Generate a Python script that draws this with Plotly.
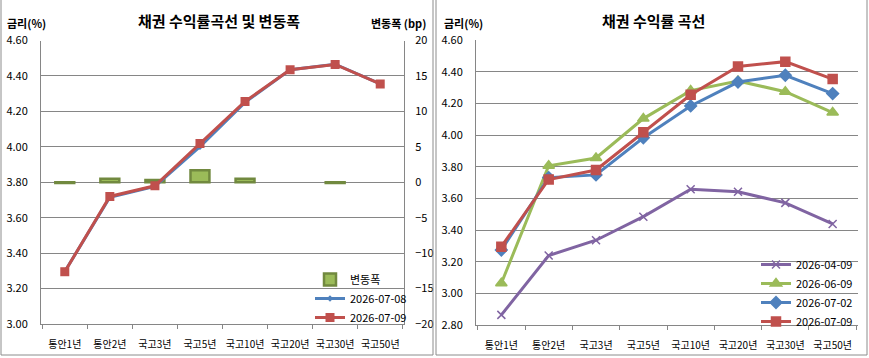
import plotly.graph_objects as go

W, H = 869, 358

categories = ["통안1년", "통안2년", "국고3년", "국고5년", "국고10년", "국고20년", "국고30년", "국고50년"]

# Left chart
change_bp = [-0.1, 0.5, 0.3, 1.7, 0.5, 0, -0.1, 0]
y_0708 = [3.296, 3.715, 3.777, 4.001, 4.251, 4.435, 4.466, 4.355]
y_0709 = [3.295, 3.720, 3.780, 4.018, 4.256, 4.435, 4.465, 4.355]

# Right chart
y_0409 = [2.864, 3.239, 3.336, 3.485, 3.658, 3.643, 3.572, 3.439]
y_0609 = [3.064, 3.807, 3.856, 4.105, 4.282, 4.343, 4.275, 4.143]
y_0702 = [3.274, 3.732, 3.749, 3.984, 4.185, 4.336, 4.379, 4.263]

FONT = "Noto Sans CJK KR"
GRID = "#868686"
PURPLE, GREEN, BLUE, RED = "#8064A2", "#9BBB59", "#4F81BD", "#C0504D"


def px(x):
    return x / W


def py(y):
    return 1 - y / H


fig = go.Figure()

# ---- left chart ----
bar_line_w = [0 if v == 0 else 2.5 for v in change_bp]
fig.add_trace(go.Bar(
    x=categories, y=change_bp, name="변동폭", xaxis="x", yaxis="y",
    marker=dict(color=GREEN, line=dict(color="#71893F", width=bar_line_w)),
    width=0.42, legend="legend",
))
fig.add_trace(go.Scatter(
    x=categories, y=y_0708, name="2026-07-08", xaxis="x", yaxis="y2",
    mode="lines+markers", line=dict(color=BLUE, width=3),
    marker=dict(symbol="diamond", size=5, color=BLUE), legend="legend",
))
fig.add_trace(go.Scatter(
    x=categories, y=y_0709, name="2026-07-09", xaxis="x", yaxis="y2",
    mode="lines+markers", line=dict(color=RED, width=3),
    marker=dict(symbol="square", size=9, color=RED), legend="legend",
))

# ---- right chart ----
for name, vals, col, sym, sz in [
    ("2026-04-09", y_0409, PURPLE, "x-thin", 8),
    ("2026-06-09", y_0609, GREEN, "triangle-up", 10),
    ("2026-07-02", y_0702, BLUE, "diamond", 9),
    ("2026-07-09", y_0709, RED, "square", 9),
]:
    fig.add_trace(go.Scatter(
        x=categories, y=vals, name=name, xaxis="x2", yaxis="y3",
        mode="lines+markers", line=dict(color=col, width=3),
        marker=dict(symbol=sym, size=sz, color=col, line=dict(color=col, width=1.5)),
        legend="legend2",
    ))

tickfont = dict(family=FONT, size=11, color="#000000")
xtickfont = dict(family=FONT, size=10, color="#000000")

xcommon = dict(
    type="category", showline=True, linecolor=GRID, linewidth=1,
    ticks="outside", tickson="boundaries", ticklen=4, tickcolor=GRID,
    tickfont=xtickfont, tickangle=0, ticklabelstandoff=11,
    showgrid=False, fixedrange=True, automargin=False,
)

fig.update_layout(
    width=W, height=H,
    margin=dict(l=0, r=0, t=0, b=0, autoexpand=False),
    paper_bgcolor="white", plot_bgcolor="white",
    font=dict(family=FONT, size=11, color="#000"),
    bargap=0.5,
    xaxis=dict(domain=[px(41), px(404)], anchor="y", **xcommon),
    yaxis=dict(
        side="right", range=[-20, 20], dtick=5, anchor="x",
        showgrid=True, gridcolor=GRID, gridwidth=1,
        showline=True, linecolor=GRID, zeroline=False,
        ticks="", ticklabelstandoff=8, tickfont=tickfont,
        domain=[py(324), py(40.5)], fixedrange=True, automargin=False,
    ),
    yaxis2=dict(
        side="left", range=[3.0, 4.6], dtick=0.2, tickformat=".2f",
        overlaying="y", anchor="x", showgrid=False,
        showline=True, linecolor=GRID, zeroline=False,
        ticks="", ticklabelstandoff=10, tickfont=tickfont, fixedrange=True,
        automargin=False,
    ),
    xaxis2=dict(domain=[px(476), px(858)], anchor="y3", **xcommon),
    yaxis3=dict(
        range=[2.8, 4.6], dtick=0.2, tickformat=".2f", anchor="x2",
        showgrid=True, gridcolor=GRID, gridwidth=1,
        showline=True, linecolor=GRID, zeroline=False,
        ticks="", ticklabelstandoff=10, tickfont=tickfont,
        domain=[py(325), py(40.3)], fixedrange=True, automargin=False,
    ),
    legend=dict(
        x=px(310), y=py(265), xanchor="left", yanchor="top",
        bgcolor="rgba(0,0,0,0)", borderwidth=0, font=dict(family=FONT, size=11),
        tracegroupgap=0, itemwidth=30,
    ),
    legend2=dict(
        x=px(756), y=py(250), xanchor="left", yanchor="top",
        bgcolor="rgba(0,0,0,0)", borderwidth=0, font=dict(family=FONT, size=11),
        tracegroupgap=0, itemwidth=30,
    ),
    showlegend=True,
)

annotations = [
    dict(text="<b>채권 수익률곡선 및 변동폭</b>", x=px(219), y=py(20), xanchor="center", size=15),
    dict(text="<b>채권 수익률 곡선</b>", x=px(653), y=py(21), xanchor="center", size=15),
    dict(text="<b>금리(%)</b>", x=px(5), y=py(23), xanchor="left", size=11),
    dict(text="<b>변동폭 (bp)</b>", x=px(428), y=py(23), xanchor="right", size=11),
    dict(text="<b>금리(%)</b>", x=px(442), y=py(23), xanchor="left", size=11),
]
anns = []
for a in annotations:
    anns.append(dict(
        text=a["text"], x=a["x"], y=a["y"], xanchor=a["xanchor"], yanchor="middle",
        xref="paper", yref="paper", showarrow=False,
        font=dict(family=FONT, color="#000", size=a["size"]),
    ))
fig.update_layout(annotations=anns)

fig.update_layout(shapes=[
    dict(type="rect", xref="paper", yref="paper", x0=px(1), x1=px(433), y0=py(355), y1=py(-2),
         line=dict(color="#8c8c8c", width=1)),
    dict(type="rect", xref="paper", yref="paper", x0=px(436), x1=px(867), y0=py(355), y1=py(-2),
         line=dict(color="#8c8c8c", width=1)),
])

fig.write_html("out.html")
